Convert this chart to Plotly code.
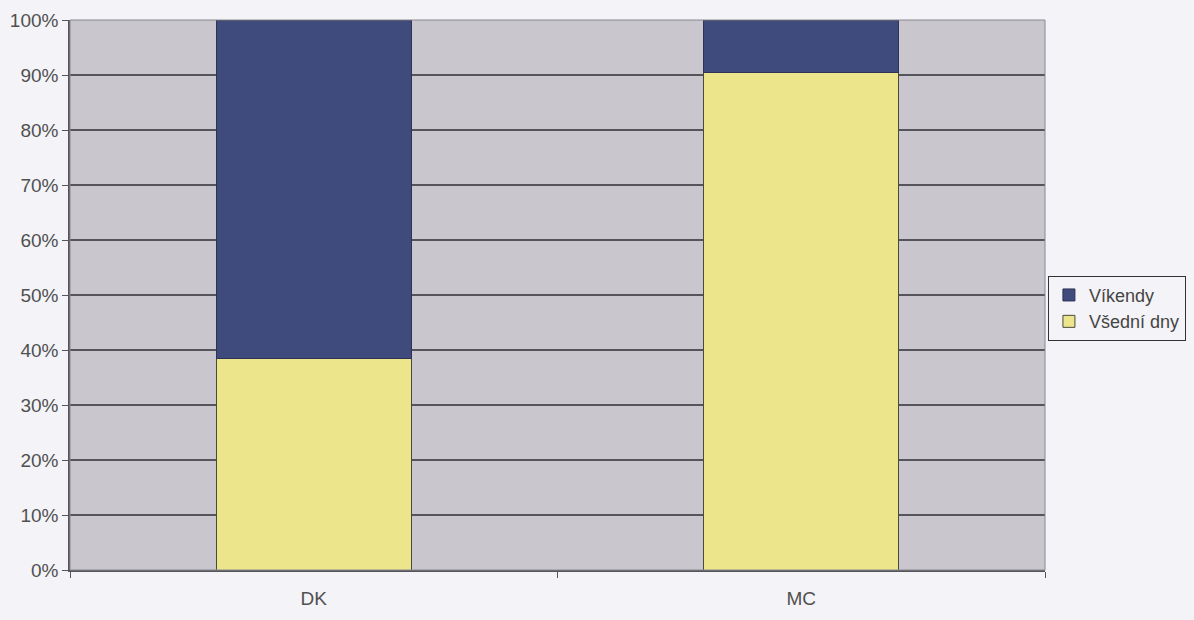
import plotly.graph_objects as go

categories = ['DK', 'MC']
vsedni_dny = [38.5, 90.5]
vikendy = [61.5, 9.5]

blue = '#3f4a7d'
yellow = '#ece58c'
grid = '#55545a'

fig = go.Figure()
fig.add_trace(go.Bar(x=categories, y=vsedni_dny, name='Všední dny',
                     marker=dict(color=yellow, line=dict(color='#4a4a3a', width=1))))
fig.add_trace(go.Bar(x=categories, y=vikendy, name='Víkendy',
                     marker=dict(color=blue, line=dict(color='#2e3455', width=1))))

fig.update_layout(
    width=1194, height=620,
    margin=dict(l=70, r=149, t=20, b=50, autoexpand=False),
    barmode='stack', bargap=0.6,
    paper_bgcolor='#f4f3f7', plot_bgcolor='#c9c7cd',
    font=dict(family='Liberation Sans, Arial, sans-serif', size=19, color='#505050'),
    legend=dict(x=1.003, y=0.535, xanchor='left', yanchor='top',
                traceorder='reversed', bgcolor='#f4f3f7',
                bordercolor='#333333', borderwidth=1,
                font=dict(size=18, color='#444444'),
                itemwidth=30, tracegroupgap=0),
    showlegend=True,
)
fig.update_yaxes(range=[0, 100], dtick=10, ticksuffix='%',
                 showgrid=True, gridcolor=grid, gridwidth=1.5,
                 ticks='outside', ticklen=6, tickcolor=grid,
                 showline=True, linecolor=grid, linewidth=1.5,
                 zeroline=False, mirror=False, automargin=False)
fig.update_xaxes(showline=True, linecolor=grid, linewidth=1.5,
                 ticks='outside', ticklen=6, tickcolor=grid,
                 tickson='boundaries', ticklabelstandoff=10, automargin=False)

# thin border on top and right of the plot area
fig.add_shape(type='rect', xref='paper', yref='paper', x0=0, y0=0, x1=1, y1=1,
              line=dict(color='#8a8890', width=1), layer='above')

fig.write_html('out.html', config={'displayModeBar': False},
               post_script="document.body.style.margin='0';"
                           "document.body.style.background='#f4f3f7';")
